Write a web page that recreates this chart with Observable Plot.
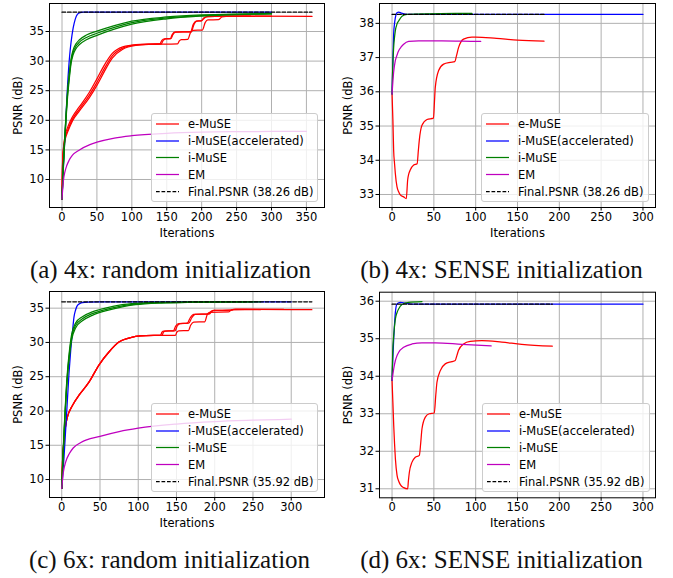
<!DOCTYPE html>
<html>
<head>
<meta charset="utf-8">
<script src="https://cdn.jsdelivr.net/npm/d3@7"></script>
<script src="https://cdn.jsdelivr.net/npm/@observablehq/plot@0.6"></script>
<style>
  body { margin: 0; background: #fff; }
  #fig { position: relative; width: 673px; height: 578px; overflow: hidden; background: #fff; font-family: "DejaVu Sans", sans-serif; }
  .panel { position: absolute; }
  .legend { position: absolute; background: rgba(255,255,255,0.8); border: 1px solid #cccccc; border-radius: 3px; box-sizing: border-box; }
  #caps { position: absolute; left: 0; top: 0; }
</style>
</head>
<body>
<div id="fig"></div>
<script>
// ---------------- data ----------------
const seriesLabels = ["e-MuSE", "i-MuSE(accelerated)", "i-MuSE", "EM"];
const seriesColors = ["#ff0000", "#0000ff", "#008000", "#bf00bf"];
const finalLabels = ["Final.PSNR (38.26 dB)", "Final.PSNR (38.26 dB)", "Final.PSNR (35.92 dB)", "Final.PSNR (35.92 dB)"];
const captions = ["(a) 4x: random initialization", "(b) 4x: SENSE initialization", "(c) 6x: random initialization", "(d) 6x: SENSE initialization"];
const xLabel = "Iterations";
const yLabel = "PSNR (dB)";

const ticksX_a = [0, 50, 100, 150, 200, 250, 300, 350];
const ticksY_a = [10, 15, 20, 25, 30, 35];
const ticksX_b = [0, 50, 100, 150, 200, 250, 300];
const ticksY_b = [33, 34, 35, 36, 37, 38];
const ticksX_c = [0, 50, 100, 150, 200, 250, 300];
const ticksY_c = [10, 15, 20, 25, 30, 35];
const ticksX_d = [0, 50, 100, 150, 200, 250, 300];
const ticksY_d = [31, 32, 33, 34, 35, 36];

// (a) 4x random initialization
const a_red1 = [[0,6.7],[1,13.2],[3,16.0],[5,17.3],[8,18.3],[15,20.2],[25,21.9],[39,24.2],[50,26.4],[60,28.6],[72,30.9],[87,32.2],[106,32.75],[125,32.85],[140,32.9],[143,33.5],[146.5,33.77],[155,33.8],[158,34.5],[161,34.9],[184,34.95],[188,36.2],[192,36.75],[199,36.8],[203,37.3],[208,37.53],[230,37.6],[270,37.6]];
const a_red2 = [[0,6.7],[1,13.5],[3,16.3],[5,17.7],[8,18.8],[15,20.6],[25,22.3],[39,24.7],[50,27.0],[60,29.2],[72,31.3],[87,32.4],[106,32.8],[125,32.88],[142,32.92],[145,33.5],[148.5,33.75],[156,33.8],[159,34.5],[162.5,34.9],[185,34.95],[189,36.2],[193,36.75],[200,36.8],[204,37.3],[209,37.53],[230,37.58],[300,37.58]];
const a_red3 = [[0,6.7],[1,12.9],[3,15.7],[5,17.0],[8,18.0],[15,19.9],[25,21.6],[39,23.8],[50,25.9],[60,28.1],[72,30.5],[87,32.0],[106,32.65],[125,32.82],[150,32.88],[165.5,32.9],[168,33.4],[171,33.62],[180,33.65],[184,34.8],[188,35.2],[201,35.25],[205,36.5],[209,36.95],[224,37.0],[229,37.45],[235,37.55],[260,37.58],[358,37.55]];
const a_blue = [[0,6.7],[3,14.5],[5,19],[8,26],[11,31],[13,33.2],[16,35.6],[19,37.1],[22,37.9],[26,38.2],[30,38.26],[300,38.26]];
const a_green1 = [[0,6.7],[2,12.5],[4,17],[6,21],[8,24.5],[10,27],[13,30],[16,31.5],[20,32.5],[25,33.2],[35,34.0],[50,34.7],[75,35.7],[100,36.5],[150,37.3],[200,37.7],[250,37.9],[300,38.0]];
const a_green2 = [[0,6.7],[2,12.8],[4,17.4],[6,21.4],[8,25],[10,27.5],[13,30.4],[16,31.9],[20,32.9],[25,33.6],[35,34.4],[50,35.05],[75,36.0],[100,36.75],[150,37.45],[200,37.8],[250,37.95],[300,38.02]];
const a_green3 = [[0,6.7],[2,12.2],[4,16.6],[6,20.6],[8,24],[10,26.5],[13,29.6],[16,31.1],[20,32.1],[25,32.8],[35,33.6],[50,34.35],[75,35.4],[100,36.25],[150,37.15],[200,37.6],[250,37.85],[300,37.97]];
const a_em = [[0,6.7],[2,9.8],[4,11.2],[7,12.4],[10,13.2],[15,14.1],[25,15.0],[40,15.9],[50,16.3],[75,17.0],[100,17.4],[150,17.8],[200,18.0],[250,18.08],[300,18.12],[350,18.15]];
const a_final = [[0,38.26],[358,38.26]];

// (b) 4x SENSE initialization
const b_red = [[0,35.94],[1,35.2],[1.9,34.3],[3,33.9],[3.9,33.62],[5.9,33.23],[7.9,33.08],[9.9,32.99],[13.9,32.93],[17,32.88],[18.7,33.43],[20,33.6],[21.9,33.72],[25.9,33.86],[30,33.9],[31.5,34.3],[32.6,34.59],[35.8,35.02],[41.8,35.19],[49.5,35.23],[50.7,35.7],[51.7,36.13],[55.7,36.62],[61.7,36.81],[69.6,36.86],[75,36.88],[77,37.05],[79.5,37.29],[85.5,37.54],[95.5,37.6],[100,37.6],[125,37.56],[150,37.51],[181.7,37.48]];
const b_blue = [[0,35.94],[1,36.9],[1.9,37.68],[3,38.0],[3.9,38.16],[5.9,38.31],[8,38.33],[11,38.3],[13.9,38.28],[19.9,38.26],[300,38.26]];
const b_green = [[0,35.94],[0.8,36.71],[1.9,37.29],[3,37.6],[3.9,37.78],[5.9,37.98],[7.9,38.07],[11.9,38.21],[17.9,38.26],[40,38.28],[95.5,38.29]];
const b_em = [[0,35.94],[1,36.3],[1.9,36.57],[3.9,36.91],[5.9,37.07],[7.9,37.2],[10.9,37.31],[13.9,37.39],[19.9,37.47],[31.8,37.49],[59.7,37.49],[83.5,37.48],[106,37.47]];
const b_final = [[0,38.26],[181.7,38.26]];

// (c) 6x random initialization
const c_red1 = [[0,8.7],[1,12.5],[3,15.7],[5,17.8],[7.4,19.1],[14,20.8],[22.6,22.3],[35.6,24.2],[48.6,26.7],[61.7,28.6],[74.7,30.05],[87.7,30.63],[96.5,30.88],[110,31.0],[129,31.03],[131,31.5],[133.4,31.66],[146,31.7],[149,32.4],[153,32.73],[164,32.8],[168,33.6],[172.5,34.08],[192,34.15],[195,34.5],[198.6,34.67],[222,34.7],[225,34.78],[240,34.81],[327,34.77]];
const c_red2 = [[0,8.7],[1,12.5],[3,15.7],[5,17.8],[7.4,19.1],[14,20.8],[22.6,22.3],[35.6,24.2],[48.6,26.7],[61.7,28.6],[74.7,30.05],[87.7,30.63],[96.5,30.88],[110,31.0],[131,31.03],[133,31.5],[135.5,31.66],[148,31.7],[151,32.4],[155,32.73],[166,32.8],[170,33.6],[174.5,34.08],[193,34.15],[196,34.5],[200,34.67],[220,34.7],[224,34.78],[260,34.8]];
const c_red3 = [[0,8.7],[1,12.5],[3,15.7],[5,17.8],[7.4,19.1],[14,20.8],[22.6,22.3],[35.6,24.2],[48.6,26.7],[61.7,28.6],[74.7,30.05],[87.7,30.63],[96.5,30.88],[110,31.0],[148.6,31.03],[150.5,31.5],[153,31.7],[165.6,31.73],[168.5,32.5],[172.5,32.97],[187,33.0],[190,34.0],[193,34.4],[218,34.45],[222,34.75],[227,34.85],[290,34.82]];
const c_blue = [[0,8.7],[3,13.3],[5,17],[7.4,21.6],[9.5,25.5],[11.7,28.8],[14,31.5],[16,33.7],[18,34.7],[20.5,35.4],[24,35.7],[27,35.8],[35.6,35.88],[50,35.92],[300,35.92]];
const c_green1 = [[0,8.7],[1.5,13],[3,16.7],[4.5,20],[6,23],[7.8,25.8],[9.6,27.9],[13,30.8],[18.3,32.5],[27,33.45],[40,34.2],[57,34.8],[79,35.35],[96.5,35.6],[130,35.8],[170,35.87],[250,35.92]];
const c_green2 = [[0,8.7],[1.5,13.2],[3,17],[4.5,20.3],[6,23.4],[7.8,26.2],[9.6,28.3],[13,31.2],[18.3,32.85],[27,33.75],[40,34.45],[57,35.0],[79,35.5],[96.5,35.7],[130,35.85],[170,35.9],[240,35.93]];
const c_green3 = [[0,8.7],[1.5,12.8],[3,16.4],[4.5,19.7],[6,22.6],[7.8,25.4],[9.6,27.5],[13,30.4],[18.3,32.15],[27,33.15],[40,33.95],[57,34.6],[79,35.2],[96.5,35.5],[130,35.75],[170,35.85],[260,35.92]];
const c_em = [[0,8.7],[2,11.0],[5,12.5],[10,13.8],[15,14.6],[25,15.4],[50,16.3],[75,17.0],[100,17.5],[150,18.1],[200,18.45],[250,18.65],[300,18.8]];
const c_final = [[0,35.92],[327,35.92]];

// (d) 6x SENSE initialization
const d_red = [[0,33.89],[1,33.3],[2,32.69],[3,32.2],[4,31.8],[6,31.36],[8,31.2],[9.9,31.11],[13.9,31.03],[18.7,31.0],[19.5,31.2],[20.7,31.44],[23.9,31.71],[27.8,31.84],[32.6,31.89],[34.2,32.2],[35.8,32.6],[39.8,32.91],[44.5,33.0],[50.5,33.02],[52.3,33.5],[53.7,33.84],[57.7,34.15],[63.6,34.33],[71.6,34.39],[75.5,34.42],[77.5,34.55],[79.5,34.69],[85.5,34.86],[93.4,34.93],[107.4,34.95],[131.2,34.91],[155,34.85],[191.6,34.8]];
const d_blue = [[0,33.89],[1,34.5],[2,35.0],[3,35.4],[4,35.71],[6,35.93],[9.9,35.97],[15.9,35.95],[25,35.92],[300,35.92]];
const d_green = [[0,33.89],[0.8,34.64],[2,35.09],[4,35.53],[6,35.7],[8,35.8],[11.9,35.91],[19.9,35.97],[35.8,35.99]];
const d_em = [[0,33.89],[1,34.05],[2,34.2],[4,34.42],[6,34.55],[8,34.64],[13.9,34.77],[23.9,34.86],[35.8,34.89],[51.7,34.89],[83.5,34.85],[118.5,34.81]];
const d_final = [[0,35.92],[191.6,35.92]];

// ---------------- drawing ----------------
const fig = document.getElementById("fig");
const FONT = "DejaVu Sans";
const FS = 11.5;

function panel(o) {
  const lineMark = (arr, color, extra = {}) =>
    Plot.line(arr, {x: d => d[0], y: d => d[1], stroke: color, strokeWidth: 1.25, curve: "monotone-x", ...extra});
  const marks = [
    Plot.gridX(o.xt, {stroke: "#b0b0b0", strokeOpacity: 1, strokeWidth: 1}),
    Plot.gridY(o.yt, {stroke: "#b0b0b0", strokeOpacity: 1, strokeWidth: 1}),
    ...o.red.map(s => lineMark(s, seriesColors[0])),
    ...o.blue.map(s => lineMark(s, seriesColors[1])),
    ...o.green.map(s => lineMark(s, seriesColors[2])),
    ...o.em.map(s => lineMark(s, seriesColors[3])),
    lineMark(o.final, "black", {strokeDasharray: "3.7,1.8", curve: "linear"}),
    Plot.frame({stroke: "black", strokeWidth: 1}),
    Plot.axisX(o.xt, {tickSize: 3.5, tickPadding: 2, label: xLabel, labelAnchor: "center", labelOffset: 29, labelArrow: "none", fontSize: FS}),
    Plot.axisY(o.yt, {tickSize: 3.5, tickPadding: 2, label: yLabel, labelAnchor: "center", labelOffset: 36, labelArrow: "none", fontSize: FS})
  ];
  const svg = Plot.plot({
    width: o.w, height: o.h,
    marginLeft: o.ml, marginRight: o.mr, marginTop: o.mt, marginBottom: o.mb,
    style: {fontFamily: FONT, fontSize: FS + "px", background: "transparent", color: "black", overflow: "visible"},
    x: {domain: o.xd, label: null},
    y: {domain: o.yd, label: null},
    marks
  });
  const div = document.createElement("div");
  div.className = "panel";
  div.style.left = o.left + "px";
  div.style.top = o.top + "px";
  div.style.width = o.w + "px";
  div.style.height = o.h + "px";
  div.appendChild(svg);
  fig.appendChild(div);

  // legend (HTML overlay, semi-transparent like matplotlib)
  const lg = o.legend;
  const ld = document.createElement("div");
  ld.className = "legend";
  ld.style.left = lg.x + "px";
  ld.style.top = lg.y + "px";
  ld.style.width = lg.w + "px";
  ld.style.height = lg.h + "px";
  const ns = "http://www.w3.org/2000/svg";
  const ls = document.createElementNS(ns, "svg");
  ls.setAttribute("width", lg.w - 2);
  ls.setAttribute("height", lg.h - 2);
  ls.style.display = "block";
  const rows = [10, 27, 43.5, 60.5, 77.5];
  const entries = seriesLabels.map((t, i) => ({t, c: seriesColors[i], dash: null}))
    .concat([{t: o.finalLabel, c: "black", dash: "3.7,1.8"}]);
  entries.forEach((e, i) => {
    const ln = document.createElementNS(ns, "line");
    ln.setAttribute("x1", 4); ln.setAttribute("x2", 27);
    ln.setAttribute("y1", rows[i]); ln.setAttribute("y2", rows[i]);
    ln.setAttribute("stroke", e.c); ln.setAttribute("stroke-width", 1.25);
    if (e.dash) ln.setAttribute("stroke-dasharray", e.dash);
    ls.appendChild(ln);
    const tx = document.createElementNS(ns, "text");
    tx.setAttribute("x", 36); tx.setAttribute("y", rows[i]);
    tx.setAttribute("dy", "0.36em");
    tx.setAttribute("font-family", FONT);
    tx.setAttribute("font-size", FS);
    tx.textContent = e.t;
    ls.appendChild(tx);
  });
  ld.appendChild(ls);
  fig.appendChild(ld);
}

panel({left: 0, top: 0, w: 336, h: 245, ml: 49, mr: 12, mt: 3, mb: 38,
  xd: [-17.9, 375.9], yd: [5.27, 39.73], xt: ticksX_a, yt: ticksY_a,
  red: [a_red3, a_red2, a_red1], blue: [a_blue], green: [a_green3, a_green1, a_green2], em: [a_em], final: a_final,
  finalLabel: finalLabels[0], legend: {x: 151, y: 113, w: 167, h: 89}});

panel({left: 335, top: 0, w: 338, h: 245, ml: 44, mr: 18, mt: 3, mb: 38,
  xd: [-15, 315], yd: [32.62, 38.58], xt: ticksX_b, yt: ticksY_b,
  red: [b_red], blue: [b_blue], green: [b_green], em: [b_em], final: b_final,
  finalLabel: finalLabels[1], legend: {x: 481, y: 113, w: 168, h: 89}});

panel({left: 0, top: 288, w: 336, h: 245, ml: 49, mr: 12, mt: 3, mb: 36,
  xd: [-16, 343.5], yd: [7.38, 37.43], xt: ticksX_c, yt: ticksY_c,
  red: [c_red2, c_red3, c_red1], blue: [c_blue], green: [c_green3, c_green1, c_green2], em: [c_em], final: c_final,
  finalLabel: finalLabels[2], legend: {x: 151, y: 403, w: 167, h: 89}});

panel({left: 335, top: 288, w: 338, h: 245, ml: 44, mr: 18, mt: 3.7, mb: 35.7,
  xd: [-15, 315], yd: [30.76, 36.24], xt: ticksX_d, yt: ticksY_d,
  red: [d_red], blue: [d_blue], green: [d_green], em: [d_em], final: d_final,
  finalLabel: finalLabels[3], legend: {x: 481.5, y: 403, w: 168, h: 89}});

// captions
const ns = "http://www.w3.org/2000/svg";
const cs = document.createElementNS(ns, "svg");
cs.setAttribute("id", "caps");
cs.setAttribute("width", 673);
cs.setAttribute("height", 578);
const capPos = [[170.5, 278], [501.5, 278], [169.5, 568], [501.5, 568]];
captions.forEach((t, i) => {
  const tx = document.createElementNS(ns, "text");
  tx.setAttribute("x", capPos[i][0]);
  tx.setAttribute("y", capPos[i][1]);
  tx.setAttribute("text-anchor", "middle");
  tx.setAttribute("font-family", "Liberation Serif");
  tx.setAttribute("font-size", 25);
  tx.setAttribute("fill", "#111");
  tx.textContent = t;
  cs.appendChild(tx);
});
fig.appendChild(cs);
</script>
</body>
</html>
